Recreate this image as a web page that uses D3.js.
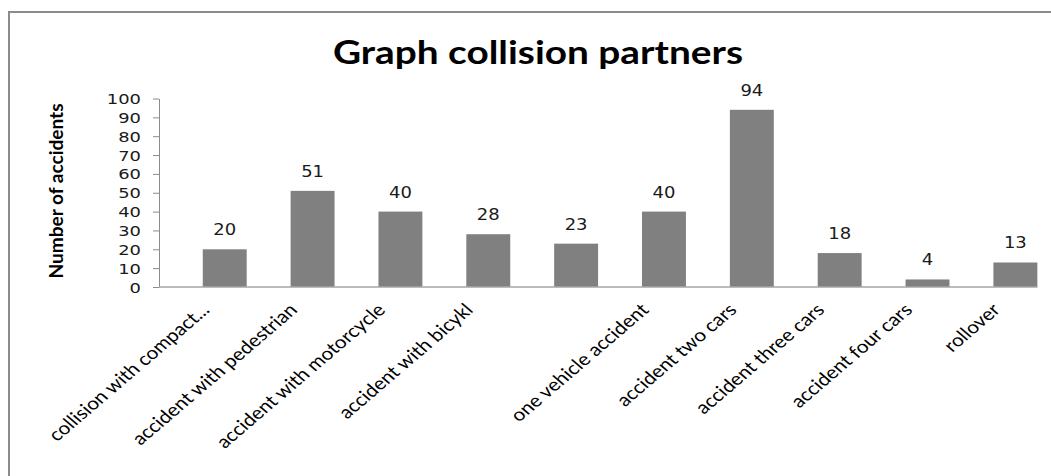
<!DOCTYPE html>
<html><head><meta charset="utf-8">
<script src="https://cdn.jsdelivr.net/npm/d3@7"></script>
<style>
html,body{margin:0;padding:0;background:#fff;}
svg{display:block;}
</style></head>
<body>
<svg id="chart" width="1051" height="476"></svg>
<script>
const categories = ["collision with compact...", "accident with pedestrian", "accident with motorcycle", "accident with bicykl", "", "one vehicle accident", "accident two cars", "accident three cars", "accident four cars", "rollover"];
const values = [20, 51, 40, 28, 23, 40, 94, 18, 4, 13];
const yTicks = [0, 10, 20, 30, 40, 50, 60, 70, 80, 90, 100];
const titleText = "Graph collision partners";
const yTitle = "Number of accidents";

const svg = d3.select("#chart");
const stretch = 1.17;

// frame
svg.append("rect").attr("x", 9).attr("y", 12).attr("width", 1200).attr("height", 700)
  .attr("fill", "none").attr("stroke", "#8c8c8c").attr("stroke-width", 2);

const x = d3.scaleBand().domain(d3.range(categories.length)).range([180.8, 1059.3]).paddingInner(0.5).paddingOuter(0.25);
const y = d3.scaleLinear().domain([0, 100]).range([287, 98.5]);

// title
svg.append("text").attr("x", 538).attr("y", 64).attr("text-anchor", "middle")
  .attr("font-family", "Lato, 'Open Sans', sans-serif").attr("font-weight", "bold")
  .attr("font-size", 32).attr("fill", "#000")
  .attr("textLength", 410).attr("lengthAdjust", "spacingAndGlyphs")
  .text(titleText);

// y axis title
svg.append("text")
  .attr("transform", `translate(62.5,191) scale(${stretch},1) rotate(-90)`)
  .attr("text-anchor", "middle")
  .attr("font-family", "Lato, sans-serif").attr("font-weight", "bold")
  .attr("font-size", 16.5).attr("fill", "#000")
  .attr("textLength", 175).attr("lengthAdjust", "spacingAndGlyphs")
  .text(yTitle);

// y axis
const yAxis = d3.axisLeft(y).tickValues(yTicks).tickSize(6).tickSizeOuter(0).tickFormat(d3.format("d"));
const gy = svg.append("g").attr("transform", "translate(159,0)").call(yAxis);
gy.select(".domain").attr("stroke", "#8c8c8c").attr("stroke-width", 1);
gy.selectAll(".tick line").attr("stroke", "#8c8c8c");
gy.selectAll(".tick text")
  .attr("x", null).attr("dy", null)
  .attr("transform", `translate(-18,5) scale(1.28,1)`)
  .attr("font-family", "'DejaVu Sans', Verdana, sans-serif").attr("font-size", 14)
  .attr("fill", "#1a1a1a");

// bars
svg.append("g").selectAll("rect").data(values).join("rect")
  .attr("x", (d, i) => x(i)).attr("width", x.bandwidth())
  .attr("y", d => y(d)).attr("height", d => y(0) - y(d))
  .attr("fill", "#808080");

// x axis line
const gx = svg.append("g").attr("transform", "translate(0,287)");
gx.append("line").attr("x1", 159).attr("x2", 1037.5).attr("y1", 0).attr("y2", 0)
  .attr("stroke", "#a6a6a6").attr("stroke-width", 1.5);

// data labels
svg.append("g").selectAll("text").data(values).join("text")
  .attr("transform", (d, i) => `translate(${x(i) + x.bandwidth() / 2},${y(d) - 14}) scale(1.2,1)`)
  .attr("text-anchor", "middle")
  .attr("font-family", "'DejaVu Sans', Verdana, sans-serif").attr("font-size", 15)
  .attr("fill", "#1a1a1a")
  .text(d => d);

// category labels
svg.append("g").selectAll("text").data(categories).join("text")
  .attr("transform", (d, i) => `translate(${x(i) + x.bandwidth() / 2 - 14},311) scale(${stretch},1) rotate(-45)`)
  .attr("text-anchor", "end")
  .attr("font-family", "Lato, 'Open Sans', sans-serif").attr("font-size", 17.8)
  .attr("fill", "#000")
  .text(d => d);
</script>
</body></html>
